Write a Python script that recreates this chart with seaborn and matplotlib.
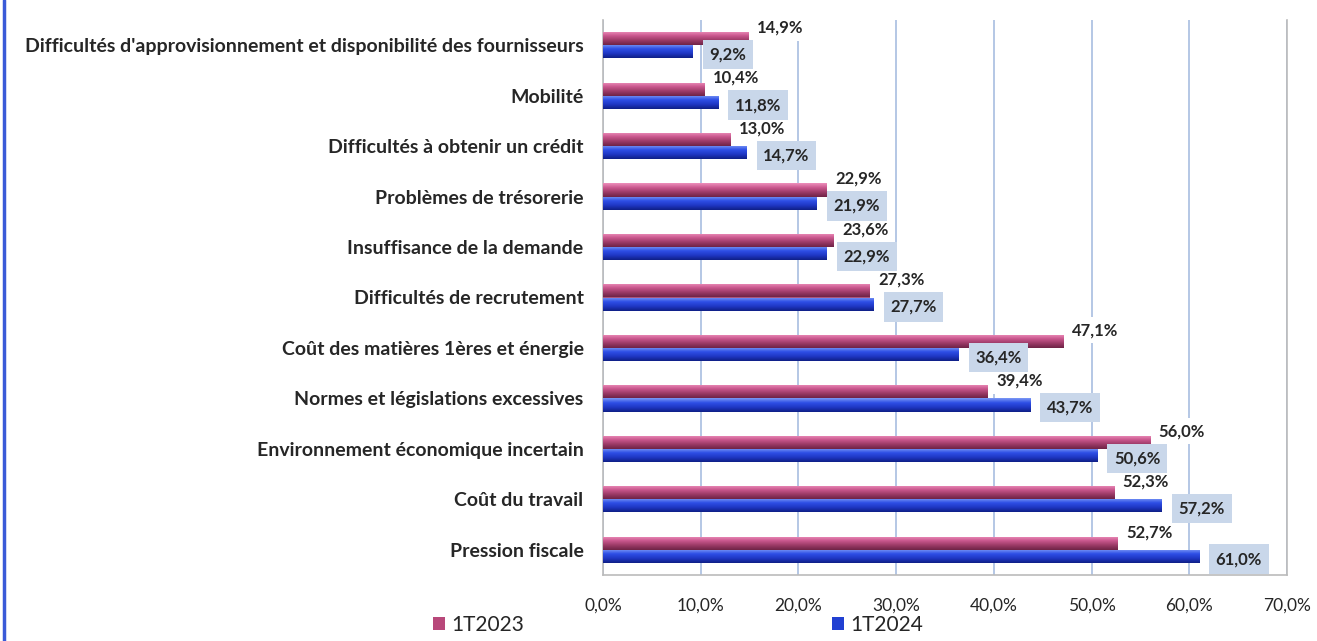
import matplotlib
matplotlib.use("Agg")
import matplotlib.pyplot as plt
from matplotlib.lines import Line2D
from matplotlib.colors import LinearSegmentedColormap
from matplotlib.ticker import FuncFormatter, MultipleLocator
import numpy as np
import pandas as pd
import seaborn as sns

# Données
categories = [
    "Difficultés d'approvisionnement et disponibilité des fournisseurs",
    "Mobilité",
    "Difficultés à obtenir un crédit",
    "Problèmes de trésorerie",
    "Insuffisance de la demande",
    "Difficultés de recrutement",
    "Coût des matières 1ères et énergie",
    "Normes et législations excessives",
    "Environnement économique incertain",
    "Coût du travail",
    "Pression fiscale",
]
valeurs_2023 = [14.9, 10.4, 13.0, 22.9, 23.6, 27.3, 47.1, 39.4, 56.0, 52.3, 52.7]
valeurs_2024 = [9.2, 11.8, 14.7, 21.9, 22.9, 27.7, 36.4, 43.7, 50.6, 57.2, 61.0]
periodes = ["1T2023", "1T2024"]

df = pd.DataFrame({
    "categorie": categories * 2,
    "valeur": valeurs_2023 + valeurs_2024,
    "periode": [periodes[0]] * len(categories) + [periodes[1]] * len(categories),
})

sns.set_style("white")
plt.rcParams["font.family"] = ["Lato", "DejaVu Sans"]

couleurs = {"1T2023": "#B8487A", "1T2024": "#2140D2"}
# dégradés pour imiter l'effet 3D d'Excel (haut clair -> bas foncé)
degrades = {
    "1T2023": LinearSegmentedColormap.from_list("rose", ["#EE8FBC", "#C9578D", "#9A3A66", "#6E2346"]),
    "1T2024": LinearSegmentedColormap.from_list("bleu", ["#7C98F5", "#2E4FE6", "#1F37C4", "#0F1F86"]),
}

fig = plt.figure(figsize=(13.17, 6.41), dpi=100)
ax = fig.add_axes([603 / 1317, 1 - 575 / 641, (1287 - 603) / 1317, (575 - 20) / 641])

sns.barplot(data=df, y="categorie", x="valeur", hue="periode", orient="h",
            palette=couleurs, width=0.52, ax=ax, legend=True,
            linewidth=0, zorder=3)

ax.set_xlim(0, 70)
ylim = ax.get_ylim()

grad = np.linspace(0, 1, 64).reshape(-1, 1)
for periode, cont in zip(periodes, ax.containers):
    for bar in cont:
        x0, y0 = bar.get_x(), bar.get_y()
        w, h = bar.get_width(), bar.get_height()
        im = ax.imshow(grad, cmap=degrades[periode], aspect="auto",
                       extent=(x0, x0 + w, y0 + h, y0), origin="upper",
                       zorder=4, interpolation="bilinear")
        im.set_clip_path(bar)
ax.set_ylim(ylim)
ax.set_xlim(0, 70)

# Etiquettes de valeurs
for val, bar in zip(valeurs_2023, ax.containers[0]):
    yc = bar.get_y() + bar.get_height() / 2
    ax.annotate(f"{val:.1f}%".replace(".", ","), (val, yc), xytext=(6, 8),
                textcoords="offset points", ha="left", va="center",
                fontsize=12, fontweight="bold", zorder=6,
                bbox=dict(boxstyle="square,pad=0.3", fc="white", ec="none"))
for val, bar in zip(valeurs_2024, ax.containers[1]):
    yc = bar.get_y() + bar.get_height() / 2
    ax.annotate(f"{val:.1f}%".replace(".", ","), (val, yc), xytext=(12, -2),
                textcoords="offset points", ha="left", va="center",
                fontsize=12, fontweight="bold", zorder=6,
                bbox=dict(boxstyle="square,pad=0.4", fc="#C9D7EA", ec="none"))

ax.xaxis.set_major_locator(MultipleLocator(10))
ax.xaxis.set_major_formatter(FuncFormatter(lambda v, p: f"{v:.1f}%".replace(".", ",")))
ax.grid(axis="x", color="#A8BDE0", linewidth=1.2, zorder=0)
ax.set_axisbelow(True)
ax.set_xlabel("")
ax.set_ylabel("")
ax.tick_params(axis="x", labelsize=12.5, pad=16, length=0)
ax.tick_params(axis="y", labelsize=14, pad=14, length=0)
for lab in ax.get_yticklabels():
    lab.set_fontweight("bold")
ax.spines["top"].set_visible(False)
for s in ["left", "bottom", "right"]:
    ax.spines[s].set_color("#BBBBBB")
    ax.spines[s].set_linewidth(1.2)

handles, labels = ax.get_legend_handles_labels()
ax.get_legend().remove()
for h, p in zip(handles, periodes):
    h.set_facecolor(couleurs[p])
fig.legend(handles, labels, loc="lower center", bbox_to_anchor=(0.515, -0.02),
           ncol=2, frameon=False, fontsize=15, columnspacing=14.75,
           handlelength=0.6, handleheight=0.6, handletextpad=0.3)

# Bordure bleue à gauche
fig.add_artist(Line2D([0.003, 0.003], [0, 1], color="#3A5AD8", linewidth=2.5,
                      transform=fig.transFigure))

fig.savefig("out.png", dpi=100)
